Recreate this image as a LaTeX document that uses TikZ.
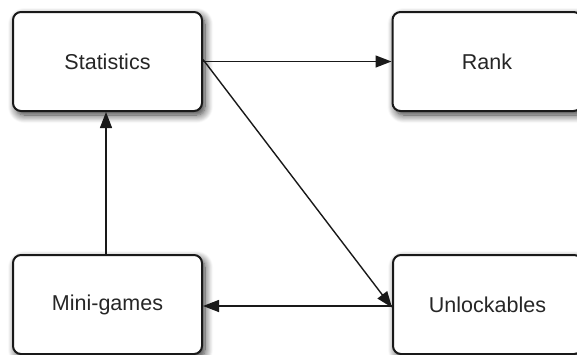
\documentclass[tikz,border=0pt]{standalone}
\usepackage{fontspec}
\setmainfont{Liberation Sans}
\usetikzlibrary{arrows.meta,shadows,shadows.blur}
\begin{document}
\begin{tikzpicture}[x=1pt,y=-1pt,
  box/.style={draw=black!90, line width=2pt, rounded corners=8pt, fill=white,
    minimum width=189pt, minimum height=99pt, inner sep=0pt,
    font=\fontsize{21.5}{26}\selectfont, text=black!85,
    blur shadow={shadow xshift=3pt, shadow yshift=-4pt, shadow blur steps=10,
      shadow blur radius=8pt, shadow opacity=80}},
  link/.style={draw=black!90, line width=1.4pt,
    -{Triangle[length=16pt,width=12pt]}}]
  \useasboundingbox (0,0) rectangle (577,354);
  \clip (0,0) rectangle (577,354);
  \node[box] (stat) at (107.5,61.5) {Statistics};
  \node[box] (rank) at (487,61.5) {Rank};
  \node[box] (mini) at (107.5,304.5) {Mini-games};
  \node[box] (unl)  at (487.5,304.5) {Unlockables};
  \draw[link] (stat.east) -- (rank.west);
  \draw[link] ([yshift=2pt]stat.east) -- ([yshift=-3pt]unl.west);
  \draw[link] ([xshift=-1.5pt]mini.north) -- ([xshift=-1.5pt]stat.south);
  \draw[link] ([yshift=-1.5pt]unl.west) -- ([yshift=-1.5pt]mini.east);
\end{tikzpicture}
\end{document}
